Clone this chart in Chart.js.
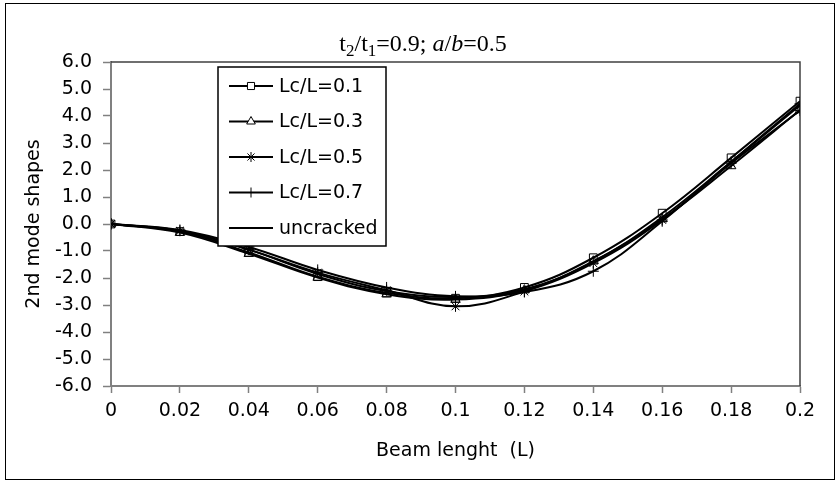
<!DOCTYPE html>
<html>
<head>
<meta charset="utf-8">
<script src="https://cdn.jsdelivr.net/npm/chart.js@4/dist/chart.umd.min.js"></script>
<style>
    html, body { margin: 0; padding: 0; background: #fff; }
    #wrap { position: relative; width: 838px; height: 482px; }
    #frame { position: absolute; left: 5px; top: 3px; width: 828px; height: 475px; border: 1.5px solid #000; pointer-events: none; }
</style>
</head>
<body>
<div id="wrap">
    <canvas id="modeChart" width="838" height="482"></canvas>
    <div id="frame"></div>
</div>
<script>
const beamPos = [0, 0.02, 0.04, 0.06, 0.08, 0.1, 0.12, 0.14, 0.16, 0.18, 0.2];
const lc01 = [0, -0.28, -1.05, -1.95, -2.55, -2.75, -2.35, -1.25, 0.40, 2.45, 4.55];
const lc03 = [0, -0.32, -1.10, -1.98, -2.60, -2.80, -2.45, -1.38, 0.18, 2.15, 4.22];
const lc05 = [0, -0.25, -0.95, -1.80, -2.45, -3.05, -2.50, -1.45, 0.15, 2.25, 4.20];
const lc07 = [0, -0.22, -0.85, -1.70, -2.35, -2.68, -2.52, -1.75, 0.10, 2.30, 4.45];
const uncracked = [0, -0.25, -0.95, -1.85, -2.48, -2.70, -2.42, -1.40, 0.25, 2.30, 4.40];

const seriesLabels = ['Lc/L=0.1', 'Lc/L=0.3', 'Lc/L=0.5', 'Lc/L=0.7', 'uncracked'];
const seriesMarkers = ['rect', 'triangle', 'star', 'cross', false];
const seriesValues = [lc01, lc03, lc05, lc07, uncracked];

const sansFamily = '"DejaVu Sans", "Liberation Sans", Arial, sans-serif';
const axisFont = { family: sansFamily, size: 19 };

function toPoints(values) {
    return values.map((v, i) => ({ x: beamPos[i], y: v }));
}

// title with subscripts and italic parts
const titlePlugin = {
    id: 'richTitle',
    afterDraw(chart) {
        const ctx = chart.ctx;
        const parts = [
            { t: 't', s: 24 }, { t: '2', s: 17, dy: 5 }, { t: '/t', s: 24 }, { t: '1', s: 17, dy: 5 },
            { t: '=0.9; ', s: 24 }, { t: 'a', s: 24, it: true }, { t: '/', s: 24 },
            { t: 'b', s: 24, it: true }, { t: '=0.5', s: 24 }
        ];
        ctx.save();
        ctx.fillStyle = '#000';
        ctx.textBaseline = 'alphabetic';
        let total = 0;
        parts.forEach(p => {
            ctx.font = (p.it ? 'italic ' : '') + p.s + 'px "Liberation Serif", "Times New Roman", serif';
            p.w = ctx.measureText(p.t).width;
            total += p.w;
        });
        let x = 423 - total / 2;
        parts.forEach(p => {
            ctx.font = (p.it ? 'italic ' : '') + p.s + 'px "Liberation Serif", "Times New Roman", serif';
            ctx.fillText(p.t, x, 51 + (p.dy || 0));
            x += p.w;
        });
        ctx.restore();
    }
};

// top and right edges of the plot box
const framePlugin = {
    id: 'plotFrame',
    beforeDatasetsDraw(chart) {
        const { ctx, chartArea: a } = chart;
        ctx.save();
        ctx.strokeStyle = '#404040';
        ctx.lineWidth = 1.5;
        ctx.beginPath();
        ctx.moveTo(a.left, a.top);
        ctx.lineTo(a.right, a.top);
        ctx.lineTo(a.right, a.bottom);
        ctx.stroke();
        ctx.restore();
    }
};

// boxed legend inside the plot
const boxLegend = {
    id: 'boxLegend',
    afterDatasetsDraw(chart) {
        const ctx = chart.ctx;
        const box = { x: 218, y: 67, w: 168, h: 179 };
        ctx.save();
        ctx.fillStyle = '#fff';
        ctx.fillRect(box.x, box.y, box.w, box.h);
        ctx.strokeStyle = '#000';
        ctx.lineWidth = 1.5;
        ctx.strokeRect(box.x, box.y, box.w, box.h);
        chart.data.datasets.forEach((ds, i) => {
            const y = 86 + i * 35.5;
            ctx.strokeStyle = '#000';
            ctx.lineWidth = 2;
            ctx.beginPath();
            ctx.moveTo(229, y);
            ctx.lineTo(273, y);
            ctx.stroke();
            if (ds.pointStyle) {
                ctx.lineWidth = 1;
                ctx.fillStyle = '#fff';
                Chart.helpers.drawPoint(ctx, { pointStyle: ds.pointStyle, radius: 5, borderWidth: 1 }, 251, y);
            }
            ctx.fillStyle = '#000';
            ctx.font = '19px ' + sansFamily;
            ctx.textBaseline = 'middle';
            ctx.textAlign = 'left';
            ctx.fillText(ds.label, 279, y + 1);
        });
        ctx.restore();
    }
};

new Chart(document.getElementById('modeChart'), {
    type: 'line',
    data: {
        datasets: seriesLabels.map((label, i) => ({
            label: label,
            data: toPoints(seriesValues[i]),
            borderColor: '#000',
            borderWidth: 2,
            tension: 0.4,
            fill: false,
            pointStyle: seriesMarkers[i],
            pointRadius: seriesMarkers[i] ? 5.5 : 0,
            pointBorderColor: '#000',
            pointBackgroundColor: 'rgba(0,0,0,0)',
            pointBorderWidth: 1
        }))
    },
    options: {
        responsive: false,
        animation: false,
        layout: { padding: { left: 0, right: 38, top: 62, bottom: 0 } },
        plugins: {
            legend: { display: false },
            tooltip: { enabled: false }
        },
        scales: {
            x: {
                type: 'linear',
                min: 0,
                max: 0.2,
                afterFit: (s) => { s.height = 96; },
                border: { display: true, color: '#808080', width: 2 },
                grid: { drawOnChartArea: false, drawTicks: true, tickLength: 7, tickColor: '#808080', tickWidth: 1.5 },
                ticks: {
                    stepSize: 0.02,
                    color: '#000',
                    padding: 7,
                    maxRotation: 0,
                    font: axisFont,
                    callback: (v) => String(Number(v.toFixed(2)))
                },
                title: {
                    display: true,
                    text: 'Beam lenght  (L)',
                    color: '#000',
                    font: axisFont,
                    padding: { top: 0, bottom: 20 }
                }
            },
            y: {
                min: -6,
                max: 6,
                afterFit: (s) => { s.width = 111; },
                border: { display: true, color: '#808080', width: 2 },
                grid: { drawOnChartArea: false, drawTicks: true, tickLength: 8, tickColor: '#808080', tickWidth: 1.5 },
                ticks: {
                    stepSize: 1,
                    color: '#000',
                    padding: 11,
                    font: axisFont,
                    callback: (v) => v.toFixed(1)
                },
                title: {
                    display: true,
                    text: '2nd mode shapes',
                    color: '#000',
                    font: axisFont,
                    padding: { top: 23, bottom: 0 }
                }
            }
        }
    },
    plugins: [framePlugin, boxLegend, titlePlugin]
});
</script>
</body>
</html>
